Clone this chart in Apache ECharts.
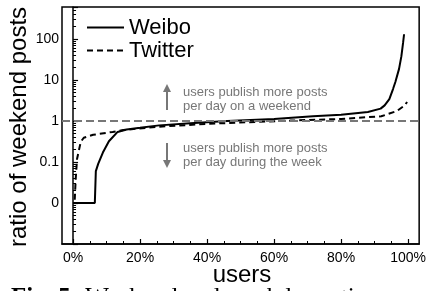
<!DOCTYPE html>
<html>
<head>
    <meta charset="utf-8">
    <title>weekend ratio</title>
    <script src="https://cdn.jsdelivr.net/npm/echarts@6/dist/echarts.min.js"></script>
</head>
<body style="margin:0;">
<div id="container" style="width:429px;height:291px;"></div>

<script type="text/javascript">
    // x = share of users (%), y = ratio of weekend posts (0 is drawn at the "0" level)
    var weiboX = [0, 6.5, 6.8, 7.5, 8.9, 10.7, 13.3, 16, 20, 25.7, 35, 46, 60, 71.6, 80, 88, 91.8, 93, 94.4, 95.5, 96.2, 97.3, 98, 98.5, 98.8];
    var weiboY = [0, 0, 0.06, 0.09, 0.17, 0.32, 0.54, 0.62, 0.68, 0.78, 0.88, 1.0, 1.12, 1.3, 1.42, 1.65, 2.0, 2.4, 3.4, 6, 8.9, 18.6, 38, 80, 130];
    var twitterX = [0.5, 0.8, 1.2, 2.3, 3.2, 6, 11.8, 15, 25, 40, 55, 65, 80, 92, 96.7, 99, 99.7];
    var twitterY = [0.012, 0.04, 0.12, 0.31, 0.39, 0.46, 0.54, 0.6, 0.72, 0.85, 0.95, 1.02, 1.12, 1.3, 1.75, 2.4, 2.9];
    var xTickLabels = [0, 20, 40, 60, 80, 100];
    var ZERO_LEVEL = 0.01;

    function pairs(xs, ys) {
        var out = [];
        for (var i = 0; i < xs.length; i++) {
            out.push([xs[i], ys[i] === 0 ? ZERO_LEVEL : ys[i]]);
        }
        return out;
    }

    var xMinor = [];
    for (var v = 5; v < 100; v += 5) {
        if (v % 20 !== 0) xMinor.push(v);
    }
    var yMinor = [];
    [0.001, 0.01, 0.1, 1, 10, 100].forEach(function (d) {
        for (var k = 2; k <= 9; k++) {
            if (d * k < 600) yMinor.push(+(d * k).toPrecision(3));
        }
    });

    var font = 'Liberation Sans';
    var gray = '#777';

    var dom = document.getElementById("container");
    var myChart = echarts.init(dom);
    var option = {
        animation: false,
        grid: {left: 62, right: 7, top: 7, bottom: 47, show: true, borderColor: '#000', borderWidth: 1.5},
        legend: {
            orient: 'vertical', left: 86, top: 16, padding: 0, itemGap: 0,
            itemWidth: 37, itemHeight: 14,
            itemStyle: {color: 'rgba(0,0,0,0)', borderColor: 'rgba(0,0,0,0)', borderWidth: 0},
            textStyle: {fontFamily: font, fontSize: 22, color: '#000', lineHeight: 23},
            data: ['Weibo', 'Twitter']
        },
        xAxis: [{
            type: 'value', min: -3.3, max: 103.3, splitLine: {show: false},
            axisLine: {lineStyle: {color: '#000', width: 1.5}},
            axisTick: {inside: true, length: 5, customValues: xTickLabels, lineStyle: {color: '#000', width: 1.2}},
            axisLabel: {customValues: xTickLabels, formatter: '{value}%', fontFamily: font, fontSize: 14, color: '#000', margin: 7}
        }, {
            type: 'value', min: -3.3, max: 103.3, position: 'bottom', splitLine: {show: false},
            axisLine: {show: false}, axisLabel: {show: false},
            axisTick: {inside: true, length: 3, customValues: xMinor, lineStyle: {color: '#000', width: 1}}
        }],
        yAxis: [{
            type: 'log', logBase: 10, min: 0.001, max: 600, splitLine: {show: false},
            axisLine: {lineStyle: {color: '#000', width: 1.5}},
            axisTick: {inside: true, length: 5, lineStyle: {color: '#000', width: 1.2}},
            axisLabel: {
                fontFamily: font, fontSize: 14, color: '#000', margin: 3,
                formatter: function (val) {
                    if (val < 0.005 || val > 500) return '';
                    if (val < 0.05) return '0';
                    return String(val);
                }
            }
        }, {
            type: 'log', logBase: 10, min: 0.001, max: 600, position: 'left', offset: 0, splitLine: {show: false},
            axisLine: {show: false}, axisLabel: {show: false},
            axisTick: {inside: true, length: 3, customValues: yMinor, lineStyle: {color: '#000', width: 1}}
        }],
        series: [{
            name: 'Weibo', type: 'line', symbol: 'none', xAxisIndex: 0, yAxisIndex: 0,
            lineStyle: {color: '#000', width: 2},
            itemStyle: {color: '#000'},
            data: pairs(weiboX, weiboY),
            markLine: {
                silent: true, symbol: 'none', label: {show: false},
                lineStyle: {color: gray, type: [8, 4], width: 2},
                data: [{yAxis: 1}]
            }
        }, {
            name: 'Twitter', type: 'line', symbol: 'none', xAxisIndex: 0, yAxisIndex: 0,
            lineStyle: {color: '#000', width: 2, type: [6, 4]},
            itemStyle: {color: '#000'},
            data: pairs(twitterX, twitterY)
        }],
        graphic: [
            // y axis title
            {type: 'text', x: 19, y: 127, rotation: Math.PI / 2,
                style: {text: 'ratio of weekend posts', fontFamily: font, fontSize: 24, fill: '#000', textAlign: 'center', textVerticalAlign: 'middle'}},
            // x axis title
            {type: 'text', x: 242, y: 275,
                style: {text: 'users', fontFamily: font, fontSize: 24, fill: '#000', textAlign: 'center', textVerticalAlign: 'middle'}},
            // annotations
            {type: 'text', x: 183, y: 99,
                style: {text: 'users publish more posts\nper day on a weekend', fontFamily: font, fontSize: 13, lineHeight: 14, fill: gray, textVerticalAlign: 'middle'}},
            {type: 'text', x: 183, y: 155,
                style: {text: 'users publish more posts\nper day during the week', fontFamily: font, fontSize: 13, lineHeight: 14, fill: gray, textVerticalAlign: 'middle'}},
            {type: 'line', shape: {x1: 167, y1: 91, x2: 167, y2: 110}, style: {stroke: gray, lineWidth: 2}},
            {type: 'polygon', shape: {points: [[163, 92], [171, 92], [167, 84]]}, style: {fill: gray}},
            {type: 'line', shape: {x1: 167, y1: 143, x2: 167, y2: 161}, style: {stroke: gray, lineWidth: 2}},
            {type: 'polygon', shape: {points: [[163, 160], [171, 160], [167, 168]]}, style: {fill: gray}},
            // caption, cut off by the bottom edge
            {type: 'text', x: 11, y: 286,
                style: {text: '{b|Fig. 5:} Weekend and weekday ratio', fontFamily: 'Liberation Serif', fontSize: 25, fill: '#000', textVerticalAlign: 'top',
                    rich: {b: {fontFamily: 'Liberation Serif', fontSize: 25, fontWeight: 'bold'}}}}
        ]
    };
    myChart.setOption(option, true);
</script>
</body>
</html>
